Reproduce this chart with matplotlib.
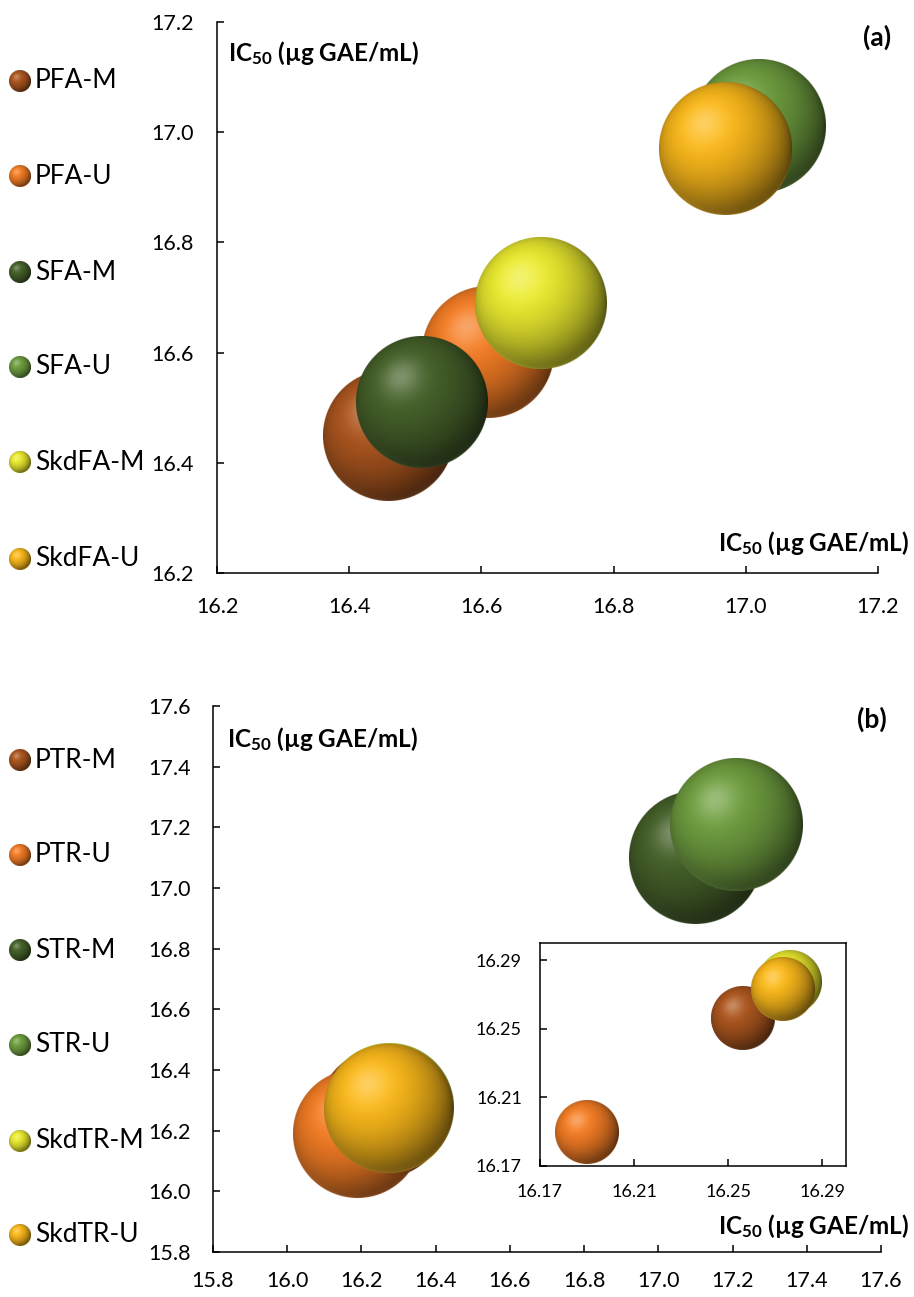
import numpy as np
import matplotlib
matplotlib.use("Agg")
import matplotlib.pyplot as plt
from matplotlib.colors import to_rgb

plt.rcParams['font.family'] = ['Lato', 'DejaVu Sans']
plt.rcParams['mathtext.fontset'] = 'custom'
plt.rcParams['mathtext.rm'] = 'Lato'
plt.rcParams['mathtext.bf'] = 'Lato:bold'
plt.rcParams['mathtext.it'] = 'Lato:italic'

# ---------------- data ----------------
labels_a = ["PFA-M", "PFA-U", "SFA-M", "SFA-U", "SkdFA-M", "SkdFA-U"]
x_a = [16.46, 16.61, 16.51, 17.02, 16.69, 16.97]
y_a = [16.45, 16.60, 16.51, 17.01, 16.69, 16.97]
size_a = [16.46, 16.61, 16.51, 17.02, 16.69, 16.97]

labels_b = ["PTR-M", "PTR-U", "STR-M", "STR-U", "SkdTR-M", "SkdTR-U"]
x_b = [16.256, 16.19, 17.10, 17.21, 16.276, 16.273]
y_b = [16.256, 16.19, 17.10, 17.21, 16.277, 16.273]
size_b = [16.256, 16.19, 17.10, 17.21, 16.276, 16.273]

colors = ["#A8541E", "#EE7A24", "#445F29", "#6C9A3E", "#E4E42E", "#F4B41A"]

ticks_a = [16.2, 16.4, 16.6, 16.8, 17.0, 17.2]
ticks_b = [15.8, 16.0, 16.2, 16.4, 16.6, 16.8, 17.0, 17.2, 17.4, 17.6]
ticks_inset = [16.17, 16.21, 16.25, 16.29]

axis_title = r"IC$_{\mathbf{50}}$ (µg GAE/mL)"

W, H = 914, 1297
fig = plt.figure(figsize=(W / 100, H / 100), dpi=100)


def fr(x0, y0, x1, y1):
    return [x0 / W, 1 - y1 / H, (x1 - x0) / W, (y1 - y0) / H]


def shade(color, N):
    base = np.array(to_rgb(color))
    g = (np.arange(N) + 0.5) / N * 2 - 1
    u, v = np.meshgrid(g, -g)
    rr = np.sqrt(u ** 2 + v ** 2)
    nz = np.sqrt(np.clip(1 - rr ** 2, 0, 1))
    L = np.array([-0.32, 0.38, 0.87])
    L = L / np.linalg.norm(L)
    ndl = u * L[0] + v * L[1] + nz * L[2]
    w = 0.35
    diff = np.clip((ndl + w) / (1 + w), 0, 1)
    c = base[None, None, :] * (0.26 + 0.80 * diff[..., None])
    spec = np.clip(ndl, 0, 1) ** 22
    hl = base + (1 - base) * 0.5
    c = c * (1 - 0.6 * spec[..., None]) + hl[None, None, :] * 0.6 * spec[..., None]
    rim = np.clip(-v * 1.3, 0, 1) * (1 - nz) ** 3
    rimcol = base + (1 - base) * 0.12
    c = c * (1 - 0.55 * rim[..., None]) + rimcol[None, None, :] * 0.55 * rim[..., None]
    alpha = np.clip((1 - rr) * N / 2 + 0.5, 0, 1)
    return np.dstack([np.clip(c, 0, 1), alpha])


def sphere(ax, x, y, s, color, zorder):
    # bubble mark
    ax.scatter([x], [y], s=s * 0.95, color=color, zorder=zorder, linewidths=0)
    # shading overlay at the same position and size
    R_px = np.sqrt(s) / 2.0 * fig.dpi / 72.0
    cx, cy = ax.transData.transform((x, y))
    inv = ax.transData.inverted()
    x0, yb = inv.transform((cx - R_px, cy - R_px))
    x1, yt = inv.transform((cx + R_px, cy + R_px))
    N = max(int(4 * R_px), 24)
    ax.imshow(shade(color, N), extent=(x0, x1, yb, yt), origin='upper',
              aspect='auto', zorder=zorder + 0.5, interpolation='antialiased',
              clip_on=False)


def style_axes(ax, lw=1.1):
    for sp in ['top', 'right']:
        ax.spines[sp].set_visible(False)
    for sp in ['left', 'bottom']:
        ax.spines[sp].set_linewidth(lw)
    ax.tick_params(direction='in', length=5, width=lw, labelsize=15.5)


# ---------------- panel (a) ----------------
ax_a = fig.add_axes(fr(217, 22, 878, 573))
ax_a.set_xlim(16.2, 17.2)
ax_a.set_ylim(16.2, 17.2)
style_axes(ax_a)
ax_a.set_xticks(ticks_a)
ax_a.set_yticks(ticks_a)
ax_a.set_xticklabels([f"{t:.1f}" for t in ticks_a])
ax_a.set_yticklabels([f"{t:.1f}" for t in ticks_a])
ax_a.tick_params(axis='x', pad=17)
ax_a.tick_params(axis='y', pad=17)
ka = 540.0
for i in range(len(x_a)):
    sphere(ax_a, x_a[i], y_a[i], size_a[i] * ka, colors[i], zorder=3 + 2 * i)
ax_a.set_xlim(16.2, 17.2)
ax_a.set_ylim(16.2, 17.2)

# ---------------- panel (b) ----------------
ax_b = fig.add_axes(fr(213, 706, 881, 1252))
ax_b.set_xlim(15.8, 17.6)
ax_b.set_ylim(15.8, 17.6)
style_axes(ax_b)
ax_b.set_xticks(ticks_b)
ax_b.set_yticks(ticks_b)
ax_b.set_xticklabels([f"{t:.1f}" for t in ticks_b])
ax_b.set_yticklabels([f"{t:.1f}" for t in ticks_b])
ax_b.tick_params(axis='x', pad=14)
ax_b.tick_params(axis='y', pad=16)
kb = 530.0
for i in range(len(x_b)):
    sphere(ax_b, x_b[i], y_b[i], size_b[i] * kb, colors[i], zorder=3 + 2 * i)
ax_b.set_xlim(15.8, 17.6)
ax_b.set_ylim(15.8, 17.6)

# ---------------- inset ----------------
ax_i = fig.add_axes(fr(540, 943, 846, 1166))
ax_i.set_xlim(16.17, 16.30)
ax_i.set_ylim(16.17, 16.30)
for sp in ax_i.spines.values():
    sp.set_linewidth(1.1)
ax_i.tick_params(direction='in', length=5, width=1.1, labelsize=13)
ax_i.set_xticks(ticks_inset)
ax_i.set_yticks(ticks_inset)
ax_i.set_xticklabels([f"{t:.2f}" for t in ticks_inset])
ax_i.set_yticklabels([f"{t:.2f}" for t in ticks_inset])
ax_i.tick_params(axis='x', pad=13)
ax_i.tick_params(axis='y', pad=13)
ki = 130.0
for i in [0, 1, 4, 5]:
    sphere(ax_i, x_b[i], y_b[i], size_b[i] * ki, colors[i], zorder=3 + 2 * i)
ax_i.set_xlim(16.17, 16.30)
ax_i.set_ylim(16.17, 16.30)
ax_i.set_zorder(5)

# ---------------- texts ----------------
def ftext(x, y, s, **kw):
    fig.text(x / W, 1 - y / H, s, **kw)

ftext(228, 61, axis_title, fontsize=17.5, fontweight='bold', ha='left', va='baseline')
ftext(909, 551, axis_title, fontsize=17.5, fontweight='bold', ha='right', va='baseline')
ftext(891, 37, "(a)", fontsize=19, fontweight='bold', ha='right', va='center')
ftext(227, 747, axis_title, fontsize=17.5, fontweight='bold', ha='left', va='baseline')
ftext(909, 1234, axis_title, fontsize=17.5, fontweight='bold', ha='right', va='baseline')
ftext(887, 719, "(b)", fontsize=19, fontweight='bold', ha='right', va='center')

# ---------------- legends ----------------
ax_leg = fig.add_axes([0, 0, 1, 1])
ax_leg.set_xlim(0, W)
ax_leg.set_ylim(H, 0)
ax_leg.axis('off')
ax_leg.patch.set_visible(False)
ax_leg.set_zorder(6)
leg_y_a = [81, 176, 272, 367, 462, 559]
leg_y_b = [760, 855, 950, 1045, 1141, 1235]
for i, lab in enumerate(labels_a):
    sphere(ax_leg, 19.5, leg_y_a[i], 230, colors[i], zorder=3)
    ax_leg.text(35, leg_y_a[i], lab, fontsize=19, ha='left', va='center')
for i, lab in enumerate(labels_b):
    sphere(ax_leg, 19.5, leg_y_b[i], 230, colors[i], zorder=3)
    ax_leg.text(35, leg_y_b[i], lab, fontsize=19, ha='left', va='center')
ax_leg.set_xlim(0, W)
ax_leg.set_ylim(H, 0)

fig.savefig("out.png", dpi=100)
